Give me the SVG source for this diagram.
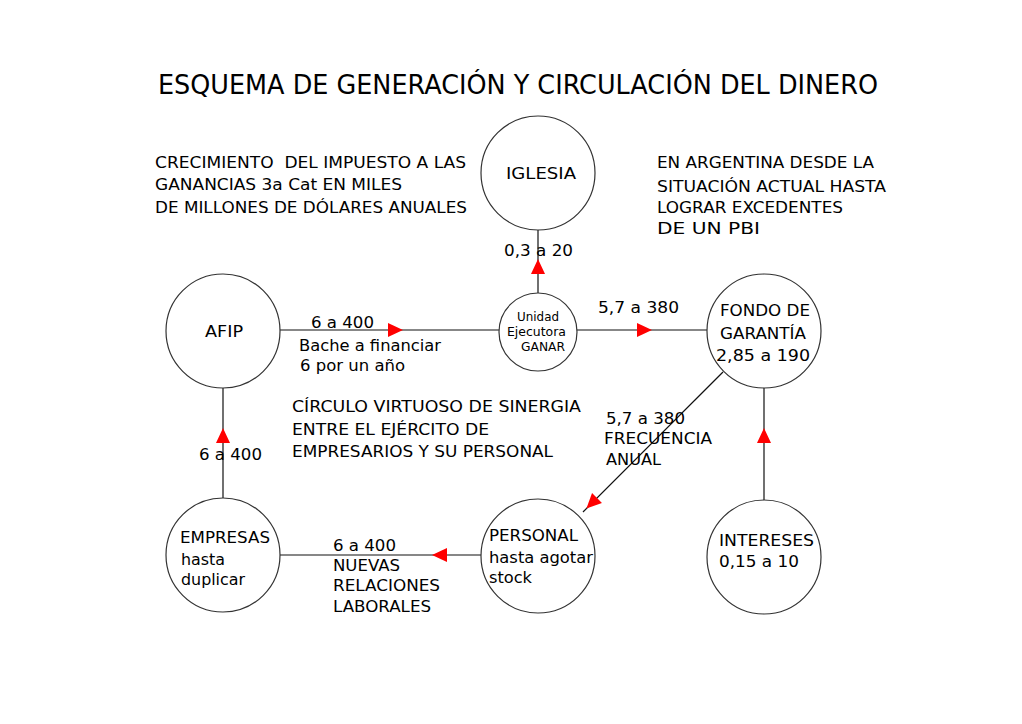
<svg xmlns="http://www.w3.org/2000/svg" width="1022" height="724" viewBox="0 0 1022 724">
<style>
text{font-family:"DejaVu Sans",Verdana,sans-serif;font-size:16px;fill:#000}
.t{font-size:26px}
.s{font-size:12px}
circle{fill:#fff;stroke:#333;stroke-width:1.2}
line{stroke:#111;stroke-width:1.2}
.ah{fill:#ff0000}
</style>
<defs>
<path id="ar" class="ah" d="M0,-7 L15,0 L0,7 Z"/>
</defs>
<rect width="1022" height="724" fill="#fff"/>
<text class="t" x="158" y="94" textLength="720" lengthAdjust="spacingAndGlyphs">ESQUEMA DE GENERACIÓN Y CIRCULACIÓN DEL DINERO</text>
<g id="note-left">
<text x="155" y="168" textLength="311" lengthAdjust="spacingAndGlyphs" xml:space="preserve">CRECIMIENTO  DEL IMPUESTO A LAS</text>
<text x="155" y="190" textLength="247" lengthAdjust="spacingAndGlyphs">GANANCIAS 3a Cat EN MILES</text>
<text x="155" y="213" textLength="312" lengthAdjust="spacingAndGlyphs">DE MILLONES DE DÓLARES ANUALES</text>
</g>
<g id="note-right">
<text x="657" y="168" textLength="217" lengthAdjust="spacingAndGlyphs">EN ARGENTINA DESDE LA</text>
<text x="657" y="192" textLength="229" lengthAdjust="spacingAndGlyphs">SITUACIÓN ACTUAL HASTA</text>
<text x="657" y="213" textLength="186" lengthAdjust="spacingAndGlyphs">LOGRAR EXCEDENTES</text>
<text x="657" y="234" textLength="103" lengthAdjust="spacingAndGlyphs">DE UN PBI</text>
</g>
<g id="note-center">
<text x="292" y="412" textLength="289" lengthAdjust="spacingAndGlyphs">CÍRCULO VIRTUOSO DE SINERGIA</text>
<text x="292" y="435" textLength="197" lengthAdjust="spacingAndGlyphs">ENTRE EL EJÉRCITO DE</text>
<text x="292" y="457" textLength="261" lengthAdjust="spacingAndGlyphs">EMPRESARIOS Y SU PERSONAL</text>
</g>
<g id="connectors">
<line x1="538" y1="230" x2="538" y2="293"/>
<use href="#ar" transform="translate(538,274) rotate(-90)"/>
<text x="504" y="256" textLength="69" lengthAdjust="spacingAndGlyphs">0,3 a 20</text>
<line x1="280" y1="330" x2="499" y2="330"/>
<use href="#ar" transform="translate(388,330)"/>
<text x="311" y="328" textLength="63" lengthAdjust="spacingAndGlyphs">6 a 400</text>
<text x="299" y="351" textLength="142" lengthAdjust="spacingAndGlyphs">Bache a financiar</text>
<text x="300" y="371" textLength="105" lengthAdjust="spacingAndGlyphs">6 por un año</text>
<line x1="577" y1="330" x2="707" y2="330"/>
<use href="#ar" transform="translate(637,330)"/>
<text x="598" y="313" textLength="81" lengthAdjust="spacingAndGlyphs">5,7 a 380</text>
<line x1="723" y1="372" x2="583" y2="512"/>
<use href="#ar" transform="translate(597,498) rotate(135)"/>
<text x="606" y="424" textLength="79" lengthAdjust="spacingAndGlyphs">5,7 a 380</text>
<text x="604" y="444" textLength="108" lengthAdjust="spacingAndGlyphs">FRECUENCIA</text>
<text x="606" y="465" textLength="55" lengthAdjust="spacingAndGlyphs">ANUAL</text>
<line x1="764" y1="500" x2="764" y2="388"/>
<use href="#ar" transform="translate(764,443) rotate(-90)"/>
<line x1="481" y1="555" x2="280" y2="555"/>
<use href="#ar" transform="translate(447,555) rotate(180)"/>
<text x="333" y="551" textLength="63" lengthAdjust="spacingAndGlyphs">6 a 400</text>
<text x="333" y="571" textLength="67" lengthAdjust="spacingAndGlyphs">NUEVAS</text>
<text x="333" y="591" textLength="107" lengthAdjust="spacingAndGlyphs">RELACIONES</text>
<text x="333" y="612" textLength="98" lengthAdjust="spacingAndGlyphs">LABORALES</text>
<line x1="223" y1="498" x2="223" y2="388"/>
<use href="#ar" transform="translate(223,443) rotate(-90)"/>
<text x="199" y="460" textLength="63" lengthAdjust="spacingAndGlyphs">6 a 400</text>
</g>
<g id="iglesia">
<circle cx="538" cy="173" r="57"/>
<text x="506" y="179" textLength="70" lengthAdjust="spacingAndGlyphs">IGLESIA</text>
</g>
<g id="unidad">
<circle cx="538" cy="332" r="39"/>
<text class="s" x="517" y="321" textLength="42" lengthAdjust="spacingAndGlyphs">Unidad</text>
<text class="s" x="507" y="336" textLength="59" lengthAdjust="spacingAndGlyphs">Ejecutora</text>
<text class="s" x="521" y="351" textLength="44" lengthAdjust="spacingAndGlyphs">GANAR</text>
</g>
<g id="afip">
<circle cx="223" cy="331" r="57"/>
<text x="205" y="337" textLength="38" lengthAdjust="spacingAndGlyphs">AFIP</text>
</g>
<g id="fondo">
<circle cx="764" cy="331" r="57"/>
<text x="720" y="316" textLength="90" lengthAdjust="spacingAndGlyphs">FONDO DE</text>
<text x="720" y="339" textLength="86" lengthAdjust="spacingAndGlyphs">GARANTÍA</text>
<text x="716" y="361" textLength="94" lengthAdjust="spacingAndGlyphs">2,85 a 190</text>
</g>
<g id="empresas">
<circle cx="223" cy="555" r="57"/>
<text x="180" y="543" textLength="90" lengthAdjust="spacingAndGlyphs">EMPRESAS</text>
<text x="181" y="565" textLength="44" lengthAdjust="spacingAndGlyphs">hasta</text>
<text x="181" y="585" textLength="64" lengthAdjust="spacingAndGlyphs">duplicar</text>
</g>
<g id="personal">
<circle cx="538" cy="556" r="57"/>
<text x="489" y="541" textLength="89" lengthAdjust="spacingAndGlyphs">PERSONAL</text>
<text x="489" y="563" textLength="104" lengthAdjust="spacingAndGlyphs">hasta agotar</text>
<text x="489" y="583" textLength="43" lengthAdjust="spacingAndGlyphs">stock</text>
</g>
<g id="intereses">
<circle cx="764" cy="557" r="57"/>
<text x="719" y="546" textLength="95" lengthAdjust="spacingAndGlyphs">INTERESES</text>
<text x="719" y="567" textLength="80" lengthAdjust="spacingAndGlyphs">0,15 a 10</text>
</g>
</svg>
